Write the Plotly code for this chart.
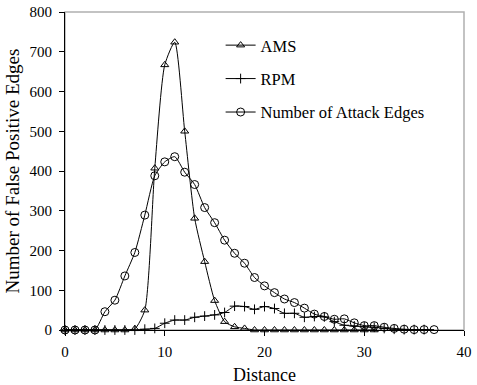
import plotly.graph_objects as go

distance_ams = list(range(0, 32))
ams = [0, 0, 0, 0, 0, 0, 0, 3, 50, 407, 667, 724, 500, 281, 172, 74,
       21, 8, 4, 0, 0, 0, 0, 0, 0, 0, 0, 0, 0, 0, 0, 0]

distance_rpm = list(range(0, 37))
rpm = [0, 0, 0, 0, 0, 0, 0, 0, 2, 4, 17, 25, 25, 32, 35, 38,
       44, 60, 59, 52, 59, 54, 42, 42, 32, 34, 33, 21, 12, 10, 8, 7,
       4, 2, 1, 1, 1]

distance_attack = list(range(0, 38))
attack = [0, 0, 0, 0, 46, 75, 136, 195, 289, 388, 423, 436, 397, 366, 308, 270,
          226, 193, 168, 132, 111, 94, 78, 69, 55, 40, 34, 27, 28, 18, 11, 11,
          7, 4, 2, 1, 1, 1]

series_names = ["AMS", "RPM", "Number of Attack Edges"]
x_ticks = [0, 10, 20, 30, 40]
y_ticks = [0, 100, 200, 300, 400, 500, 600, 700, 800]

FONT = "Liberation Serif, Times New Roman, serif"

fig = go.Figure()
fig.add_trace(go.Scatter(
    x=distance_ams, y=ams, name=series_names[0], mode="lines+markers",
    line=dict(color="black", width=1, shape="spline", smoothing=0.6),
    marker=dict(symbol="triangle-up-open", size=7, color="black", line=dict(width=1, color="black")),
    legendgroup="a", cliponaxis=False))
fig.add_trace(go.Scatter(
    x=distance_rpm, y=rpm, name=series_names[1], mode="lines+markers",
    line=dict(color="black", width=1, shape="spline", smoothing=0.6),
    marker=dict(symbol="cross-thin-open", size=7, color="black", line=dict(width=1, color="black")),
    legendgroup="b", cliponaxis=False))
fig.add_trace(go.Scatter(
    x=distance_attack, y=attack, name=series_names[2], mode="lines+markers",
    line=dict(color="black", width=1, shape="spline", smoothing=0.6),
    marker=dict(symbol="circle-open", size=8, color="black", line=dict(width=1, color="black")),
    legendgroup="c", cliponaxis=False))

fig.add_shape(type="rect", xref="x domain", yref="y domain", x0=0, x1=1, y0=0, y1=1,
              line=dict(color="#b0b0b0", width=1.5), layer="below")

fig.update_layout(
    width=477, height=385,
    margin=dict(l=65, r=13, t=12, b=55),
    paper_bgcolor="white", plot_bgcolor="white",
    font=dict(family=FONT, size=15, color="black"),
    showlegend=True,
    legend=dict(x=0.39, y=0.95, xanchor="left", yanchor="top",
                bgcolor="rgba(0,0,0,0)", font=dict(size=16.5, family=FONT),
                traceorder="grouped", tracegroupgap=9, itemwidth=30),
    xaxis=dict(range=[0, 40], tickvals=x_ticks, showgrid=False, zeroline=False,
               showline=True, linecolor="black", linewidth=1, automargin=False,
               ticks="outside", ticklen=5, tickcolor="black", ticklabelstandoff=3,
               ticklabeloverflow="allow",
               title=dict(text="Distance", font=dict(size=18, family=FONT), standoff=10)),
    yaxis=dict(range=[0, 800], tickvals=y_ticks, showgrid=False, zeroline=False,
               showline=True, linecolor="black", linewidth=1, automargin=False,
               ticks="outside", ticklen=5, tickcolor="black", ticklabelstandoff=4,
               ticklabeloverflow="allow",
               title=dict(text="Number of False Positive Edges", font=dict(size=19, family=FONT), standoff=4)),
)

fig.write_html("out.html", config={"displayModeBar": False},
               post_script="document.body.style.margin='0px';")
